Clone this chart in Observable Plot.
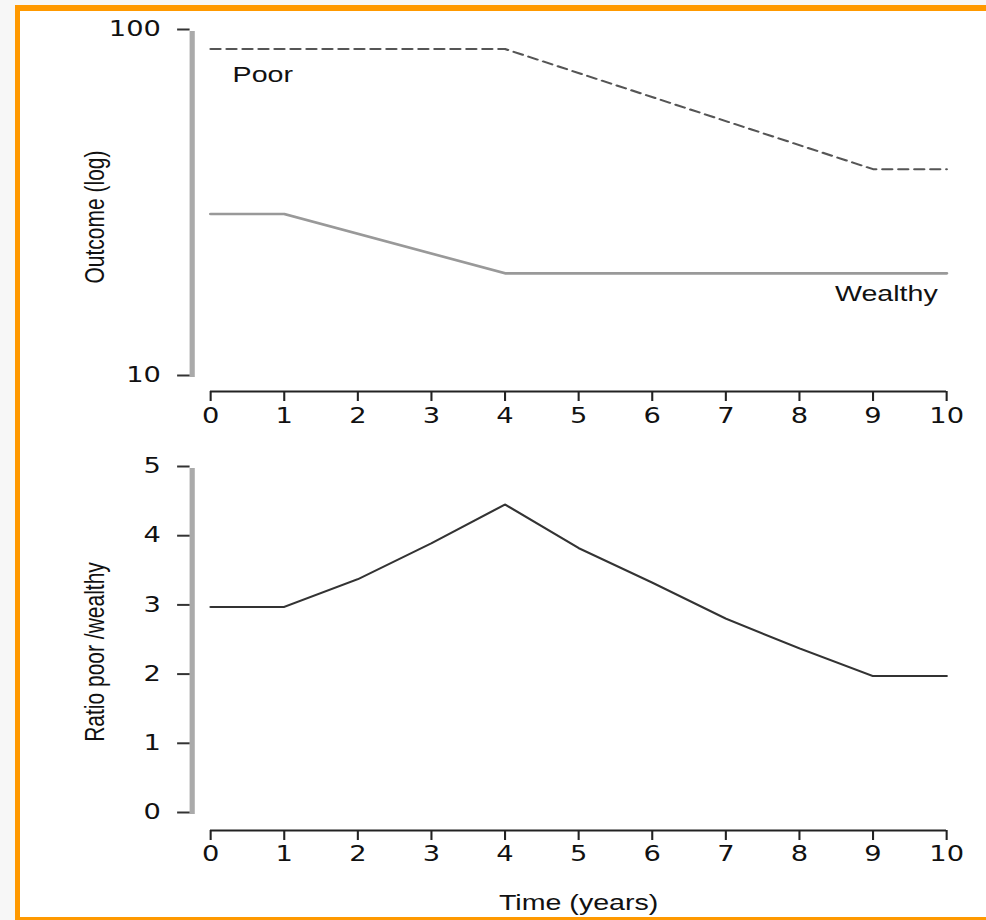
<!DOCTYPE html>
<html>
<head>
<meta charset="utf-8">
<script src="https://cdn.jsdelivr.net/npm/d3@7"></script>
<script src="https://cdn.jsdelivr.net/npm/@observablehq/plot@0.6"></script>
<style>
  html, body { margin: 0; padding: 0; width: 986px; height: 920px; overflow: hidden; background: #f7f7f7; }
  #frame { position: absolute; left: 15px; top: 5px; width: 1000px; height: 915px; box-sizing: border-box;
           background: #fff; border-left: 5px solid #ff9900; border-top: 6px solid #ff9900; border-bottom: 3px solid #ff9900; }
  .panel { position: absolute; left: 0; transform: scaleX(1.3); transform-origin: 0 0; }
</style>
</head>
<body>
<div id="frame"></div>
<div id="top" class="panel" style="top:0px"></div>
<div id="bottom" class="panel" style="top:440px"></div>
<script>
// ---- data ----
const xTicks = [0, 1, 2, 3, 4, 5, 6, 7, 8, 9, 10];
const yTicksOutcome = [10, 100];
const yTicksRatio = [0, 1, 2, 3, 4, 5];
const seriesNames = ["Poor", "Wealthy"];
const poorYears = [0, 4, 9, 10];
const poorOutcome = [89, 89, 40, 40];
const wealthyYears = [0, 1, 4, 10];
const wealthyOutcome = [29.7, 29.7, 20, 20];
const ratioYears = [0, 1, 2, 3, 4, 5, 6, 7, 8, 9, 10];
const ratioValues = [3.0, 3.0, 3.4, 3.92, 4.48, 3.85, 3.35, 2.83, 2.4, 2.0, 2.0];
const yTitleOutcome = "Outcome (log)";
const yTitleRatio = "Ratio poor /wealthy";
const xTitle = "Time (years)";

// ---- tables ----
const poor = poorYears.map((t, i) => ({t, v: poorOutcome[i], name: seriesNames[0]}));
const wealthy = wealthyYears.map((t, i) => ({t, v: wealthyOutcome[i], name: seriesNames[1]}));
const ratio = ratioYears.map((t, i) => ({t, v: ratioValues[i]}));

const S = 1.3;               // horizontal stretch of the reference image
const W = 759;
const mL = 210 / S, mR = W - 946 / S;
const labelFont = "'Liberation Sans', Arial, sans-serif";
const ink = "#111";
const baseStyle = {background: "none", fontFamily: "'DejaVu Sans', Verdana, sans-serif", fontSize: "21px", color: ink, overflow: "visible"};
const fmt = d => String(d);

const axisYOpts = (ticks) => ({anchor: "left", ticks, tickFormat: fmt, label: null, dx: -15.7, tickSize: 9.6, tickPadding: 13, dy: -2, stroke: "#333", strokeWidth: 2, fill: ink});
const axisXOpts = (dy, pad) => ({anchor: "bottom", ticks: xTicks, tickFormat: fmt, label: null, dy, tickSize: 10, tickPadding: pad, stroke: "#222", strokeWidth: 1.6, fill: ink});
const yTitle = (txt, dy) => Plot.text([txt], {text: d => d, frameAnchor: "left", textAnchor: "middle", lineAnchor: "middle", rotate: -90, dx: -88.4, dy, fontFamily: labelFont, fontSize: 21, fill: ink});

const topChart = Plot.plot({
  width: W, height: 440,
  marginTop: 31, marginBottom: 63, marginLeft: mL, marginRight: mR,
  x: {domain: d3.extent(xTicks), label: null},
  y: {type: "log", domain: d3.extent(yTicksOutcome), label: null},
  style: baseStyle,
  marks: [
    Plot.ruleX([xTicks[0]], {dx: -14.2, stroke: "#aaa", strokeWidth: 4}),
    Plot.ruleY([yTicksOutcome[0]], {dy: 14, stroke: "#222", strokeWidth: 2}),
    Plot.axisY(axisYOpts(yTicksOutcome)),
    Plot.axisX(axisXOpts(14, 7)),
    Plot.line(poor, {x: "t", y: "v", stroke: "#555", strokeWidth: 2, strokeDasharray: "7.5,4.8"}),
    Plot.line(wealthy, {x: "t", y: "v", stroke: "#999", strokeWidth: 2.6}),
    Plot.text([poor[0]], {x: "t", y: "v", text: "name", textAnchor: "start", dx: 16.9, dy: 25.7, fontFamily: labelFont, fontSize: 22, fill: ink}),
    Plot.text([wealthy[wealthy.length - 1]], {x: "t", y: "v", text: "name", textAnchor: "end", dx: -6.9, dy: 21, fontFamily: labelFont, fontSize: 22, fill: ink}),
    yTitle(yTitleOutcome, 12.5)
  ]
});

const bottomChart = Plot.plot({
  width: W, height: 480,
  marginTop: 28, marginBottom: 106, marginLeft: mL, marginRight: mR,
  x: {domain: d3.extent(xTicks), label: null},
  y: {domain: d3.extent(yTicksRatio), label: null},
  style: baseStyle,
  marks: [
    Plot.ruleX([xTicks[0]], {dx: -14.2, stroke: "#aaa", strokeWidth: 4}),
    Plot.ruleY([yTicksRatio[0]], {dy: 16, stroke: "#222", strokeWidth: 2}),
    Plot.axisY(axisYOpts(yTicksRatio)),
    Plot.axisX(axisXOpts(16, 6)),
    Plot.line(ratio, {x: "t", y: "v", stroke: "#333", strokeWidth: 2}),
    yTitle(yTitleRatio, 10.5),
    Plot.text([xTitle], {text: d => d, frameAnchor: "bottom", lineAnchor: "middle", dy: 88, fontFamily: labelFont, fontSize: 22, fill: ink})
  ]
});

document.getElementById("top").appendChild(topChart);
document.getElementById("bottom").appendChild(bottomChart);
</script>
</body>
</html>
